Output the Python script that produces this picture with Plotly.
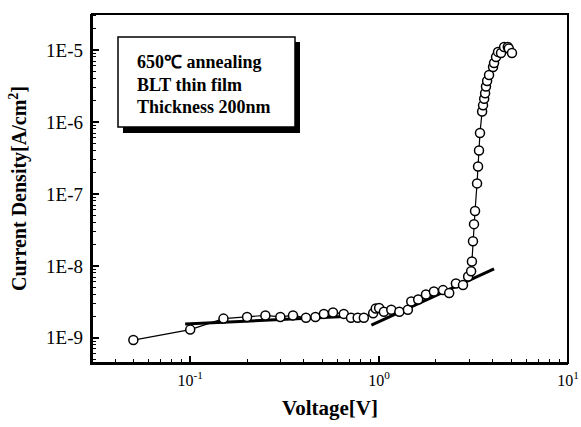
import plotly.graph_objects as go

voltage = [0.05, 0.10, 0.15, 0.20, 0.25, 0.30, 0.35, 0.41, 0.46, 0.51, 0.57, 0.65, 0.71, 0.77,
           0.83, 0.93, 0.96, 1.00, 1.06, 1.16, 1.28, 1.42, 1.48, 1.61, 1.77, 1.95, 2.18, 2.35,
           2.55, 2.78, 2.96, 3.07, 3.10, 3.14, 3.18, 3.22, 3.30, 3.34, 3.38, 3.42, 3.51, 3.55,
           3.60, 3.64, 3.68, 3.73, 3.82, 4.01, 4.06, 4.16, 4.26, 4.42, 4.59, 4.80, 4.86, 5.05]
current = [9.3e-10, 1.3e-9, 1.85e-9, 1.95e-9, 2.05e-9, 1.95e-9, 2.05e-9, 1.9e-9, 1.95e-9, 2.15e-9,
           2.25e-9, 2.15e-9, 1.9e-9, 1.9e-9, 1.9e-9, 2.2e-9, 2.55e-9, 2.6e-9, 2.3e-9, 2.45e-9,
           2.3e-9, 2.45e-9, 3.2e-9, 3.4e-9, 4.0e-9, 4.4e-9, 4.6e-9, 4.2e-9, 5.7e-9, 5.4e-9,
           7.1e-9, 8.4e-9, 1.15e-8, 2.2e-8, 3.8e-8, 5.8e-8, 1.4e-7, 2.4e-7, 4.0e-7, 7.0e-7,
           1.4e-6, 1.7e-6, 2.1e-6, 2.5e-6, 3.1e-6, 3.7e-6, 4.5e-6, 5.8e-6, 6.6e-6, 8.0e-6,
           9.4e-6, 9.1e-6, 1.1e-5, 1.1e-5, 1.05e-5, 9.1e-6]

fit1_v = [0.094, 0.85]
fit1_j = [1.55e-9, 2.05e-9]
fit2_v = [0.91, 4.06]
fit2_j = [1.5e-9, 9.1e-9]

x_tickvals = [0.1, 1, 10]
x_ticktext = ["10<sup>-1</sup>", "10<sup>0</sup>", "10<sup>1</sup>"]
y_tickvals = [1e-9, 1e-8, 1e-7, 1e-6, 1e-5]
y_ticktext = ["1E-9", "1E-8", "1E-7", "1E-6", "1E-5"]

box_lines = ["650\u2103 annealing", "BLT thin film", "Thickness 200nm"]

serif = "Liberation Serif"
X_RANGE = [-1.52, 1.0]
Y_RANGE = [-9.35, -4.5]

fig = go.Figure()
fig.add_trace(go.Scatter(x=fit1_v, y=fit1_j, mode="lines",
                         line=dict(color="black", width=3), showlegend=False))
fig.add_trace(go.Scatter(x=fit2_v, y=fit2_j, mode="lines",
                         line=dict(color="black", width=3), showlegend=False))
fig.add_trace(go.Scatter(x=voltage, y=current, mode="lines+markers",
                         line=dict(color="black", width=1.2),
                         marker=dict(symbol="circle", size=9, color="white",
                                     line=dict(color="black", width=1.5)),
                         showlegend=False))
# invisible trace carrying the label overlay axes
fig.add_trace(go.Scatter(x=[1], y=[1e-7], xaxis="x2", yaxis="y2", mode="markers",
                         marker=dict(opacity=0), hoverinfo="skip", showlegend=False))

tick_common = dict(ticks="inside", ticklen=7, tickwidth=1.5, tickcolor="black",
                   showline=True, linecolor="black", linewidth=2, mirror=False,
                   showgrid=False, zeroline=False, automargin=False,
                   tickmode="linear", tick0=0, dtick=1, showticklabels=False,
                   minor=dict(ticks="inside", ticklen=4, tickwidth=1.2, tickcolor="black",
                              dtick="D1", showgrid=False))

fig.update_layout(
    width=581, height=427, margin=dict(l=92, r=13, t=14, b=64),
    paper_bgcolor="white", plot_bgcolor="white",
    xaxis=dict(type="log", range=X_RANGE, **tick_common,
               title=dict(text="<b>Voltage[V]</b>", standoff=36,
                          font=dict(family=serif, size=21, color="black"))),
    yaxis=dict(type="log", range=Y_RANGE, **tick_common,
               title=dict(text="<b>Current Density[A/cm<sup>2</sup>]</b>", standoff=58,
                          font=dict(family=serif, size=20, color="black"))),
    xaxis2=dict(type="log", range=X_RANGE, overlaying="x", anchor="y", side="bottom",
                tickmode="array", tickvals=x_tickvals, ticktext=x_ticktext, ticks="",
                ticklabelstandoff=6,
                tickfont=dict(family=serif, size=16, color="black"),
                showgrid=False, zeroline=False, showline=False, automargin=False),
    yaxis2=dict(type="log", range=Y_RANGE, overlaying="y", anchor="x", side="left",
                tickmode="array", tickvals=y_tickvals, ticktext=y_ticktext, ticks="",
                ticklabelstandoff=8,
                tickfont=dict(family=serif, size=19, color="black"),
                showgrid=False, zeroline=False, showline=False, automargin=False),
)

# plot frame (top and right edges without ticks)
fig.add_shape(type="rect", xref="paper", yref="paper", x0=0, x1=1, y0=0, y1=1,
              line=dict(color="black", width=2), fillcolor="rgba(0,0,0,0)", layer="above")

# text box with shadow
fig.add_shape(type="rect", xref="paper", yref="paper",
              x0=(123 - 92) / 476, x1=(300 - 92) / 476,
              y0=1 - (133 - 14) / 349, y1=1 - (42 - 14) / 349,
              fillcolor="black", line=dict(width=0), layer="above")
fig.add_shape(type="rect", xref="paper", yref="paper",
              x0=(118 - 92) / 476, x1=(295 - 92) / 476,
              y0=1 - (127 - 14) / 349, y1=1 - (37 - 14) / 349,
              fillcolor="white", line=dict(color="black", width=1.5), layer="above")
for i, t in enumerate(box_lines):
    fig.add_annotation(xref="paper", yref="paper", x=(135 - 92) / 476,
                       y=1 - (62 + 22.5 * i - 14) / 349, text="<b>" + t + "</b>",
                       showarrow=False, xanchor="left", yanchor="middle",
                       font=dict(family=serif, size=18, color="black"))

fig.write_html("out.html", config={"displayModeBar": False},
               post_script="document.body.style.margin='0';document.body.style.overflow='hidden';")
